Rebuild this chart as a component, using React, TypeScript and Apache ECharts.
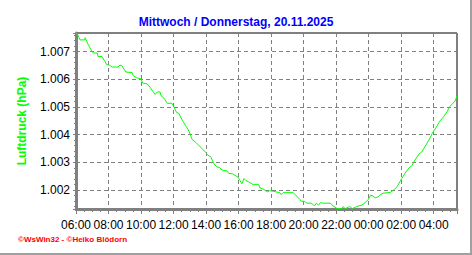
import React, { useEffect, useRef } from "react";
import * as echarts from "echarts";

const title = "Mittwoch / Donnerstag, 20.11.2025";
const yName = "Luftdruck (hPa)";
const footer = "©WsWin32 - ©Heiko Blödorn";

const times = [
  "06:00","06:05","06:15","06:32","06:34","06:42","06:52","06:59","07:06","07:19",
  "07:21","07:36","07:46","07:53","08:03","08:08","08:13","08:35","08:42","08:50",
  "08:54","09:04","09:27","09:31","09:44","09:59","10:06","10:23","10:33","10:43",
  "10:52","11:00","11:10","11:14","11:20","11:27","11:37","11:54","12:01","12:11",
  "12:20","12:32","12:47","12:58","13:08","13:23","13:35","13:49","13:59","14:07",
  "14:17","14:29","14:39","14:51","14:58","15:18","15:23","15:38","15:58","16:05",
  "16:12","16:20","16:27","16:37","16:54","17:14","17:19","17:31","17:46","17:55",
  "18:08","18:32","18:37","18:44","19:22","19:29","19:46","19:51","20:04","20:11",
  "20:30","20:40","20:47","20:55","21:02","21:12","21:39","21:49","22:04","22:21",
  "22:26","22:33","22:50","23:00","23:15","23:35","23:47","23:59","00:07","00:16",
  "00:24","00:36","00:44","00:53","01:20","01:33","01:45","02:02","02:14","02:29",
  "02:39","02:51","03:06","03:16","03:28","03:43","03:55","04:10","04:22","04:37",
  "04:49","04:59","05:09","05:19","05:26",
];

const pressure = [
  1007.67,1007.64,1007.42,1007.42,1007.50,1007.31,1007.13,1006.99,1006.95,1006.94,
  1006.82,1006.82,1006.65,1006.53,1006.51,1006.48,1006.44,1006.44,1006.51,1006.48,
  1006.41,1006.26,1006.24,1006.13,1006.05,1006.02,1005.86,1005.83,1005.71,1005.57,
  1005.45,1005.54,1005.54,1005.40,1005.36,1005.28,1005.13,1005.13,1005.01,1004.80,
  1004.76,1004.52,1004.29,1004.10,1003.83,1003.71,1003.59,1003.45,1003.35,1003.25,
  1003.20,1002.94,1002.84,1002.80,1002.72,1002.68,1002.60,1002.58,1002.46,1002.34,
  1002.22,1002.41,1002.34,1002.29,1002.19,1002.19,1002.07,1002.03,1001.93,1001.97,
  1001.95,1001.90,1001.83,1001.90,1001.90,1001.83,1001.66,1001.59,1001.59,1001.52,
  1001.52,1001.42,1001.52,1001.45,1001.54,1001.52,1001.52,1001.42,1001.32,1001.32,
  1001.40,1001.32,1001.40,1001.32,1001.40,1001.45,1001.54,1001.66,1001.81,1001.78,
  1001.71,1001.76,1001.83,1001.88,1001.91,1002.00,1002.12,1002.41,1002.60,1002.80,
  1002.87,1003.08,1003.30,1003.37,1003.57,1003.81,1004.05,1004.27,1004.48,1004.65,
  1004.82,1005.01,1005.11,1005.21,1005.40,
];

const startHour = 6;
const xMaxTime = "05:26";
const yMin = 1001.31;
const yMax = 1007.67;

function toOffset(t: string): number {
  const [h, m] = t.split(":").map(Number);
  let v = h + m / 60 - startHour;
  if (v < 0) v += 24;
  return v;
}

const pad2 = (n: number) => (n < 10 ? "0" + n : "" + n);

export default function App() {
  const ref = useRef<HTMLDivElement>(null);
  useEffect(() => {
    document.body.style.margin = "0";
    if (!ref.current) return;
    const chart = echarts.init(ref.current, undefined, { renderer: "svg" });
    const data = times.map((t, i) => [toOffset(t), pressure[i]]);
    const font = "Liberation Sans, Arial, sans-serif";
    chart.setOption({
      animation: false,
      backgroundColor: "#ffffff",
      title: {
        text: title,
        left: "center",
        top: 11,
        textStyle: { color: "#0000ff", fontSize: 12, fontWeight: "bold", fontFamily: font },
      },
      grid: {
        left: 76,
        top: 33,
        right: 15,
        bottom: 46,
        show: true,
        borderColor: "#000000",
        borderWidth: 1,
        backgroundColor: "transparent",
      },
      xAxis: {
        type: "value",
        min: 0,
        max: toOffset(xMaxTime),
        interval: 2,
        axisLine: { show: true, onZero: false, lineStyle: { color: "#808080", width: 3 } },
        axisTick: { show: true, length: 5, lineStyle: { color: "#808080", width: 1 } },
        minorTick: { show: true, splitNumber: 4, length: 3, lineStyle: { color: "#808080", width: 1 } },
        splitLine: { show: true, lineStyle: { color: "#808080", type: [4, 3], width: 1 } },
        axisLabel: {
          color: "#000000",
          fontSize: 12,
          fontFamily: font,
          margin: 10,
          showMaxLabel: false,
          formatter: (v: number) => pad2((Math.round(v) + startHour) % 24) + ":00",
        },
      },
      yAxis: {
        type: "value",
        min: yMin,
        max: yMax,
        minInterval: 1,
        maxInterval: 1,
        splitNumber: 6,
        name: yName,
        nameLocation: "middle",
        nameRotate: 90,
        nameGap: 48,
        nameTextStyle: { color: "#00ff00", fontSize: 12, fontWeight: "bold", fontFamily: font },
        axisLine: { show: true, lineStyle: { color: "#808080", width: 3 } },
        axisTick: { show: true, length: 3, lineStyle: { color: "#808080", width: 1 } },
        minorTick: { show: true, splitNumber: 5, length: 2, lineStyle: { color: "#808080", width: 1 } },
        splitLine: { show: true, lineStyle: { color: "#808080", type: [4, 3], width: 1 } },
        axisLabel: {
          color: "#000000",
          fontSize: 12,
          fontFamily: font,
          margin: 6,
          showMinLabel: false,
          showMaxLabel: false,
          formatter: (v: number) => {
            const r = Math.round(v);
            if (Math.abs(v - r) > 0.001) return "";
            const th = Math.floor(r / 1000);
            const rest = r % 1000;
            return th + "." + (rest < 10 ? "00" + rest : rest < 100 ? "0" + rest : "" + rest);
          },
        },
      },
      series: [
        {
          type: "line",
          data,
          showSymbol: false,
          symbol: "none",
          lineStyle: { color: "#00ff00", width: 1 },
          clip: true,
        },
      ],
      graphic: [
        {
          type: "text",
          left: 18,
          top: 235,
          style: { text: footer, fill: "#ff0000", fontSize: 8, fontWeight: "bold", fontFamily: font },
        },
        {
          type: "line",
          shape: { x1: 471, y1: 0, x2: 471, y2: 255 },
          style: { stroke: "#a0a0a0", lineWidth: 2 },
        },
        {
          type: "line",
          shape: { x1: 0, y1: 254, x2: 472, y2: 254 },
          style: { stroke: "#a0a0a0", lineWidth: 2 },
        },
      ],
    });
    return () => chart.dispose();
  }, []);
  return <div ref={ref} style={{ width: 472, height: 255 }} />;
}
